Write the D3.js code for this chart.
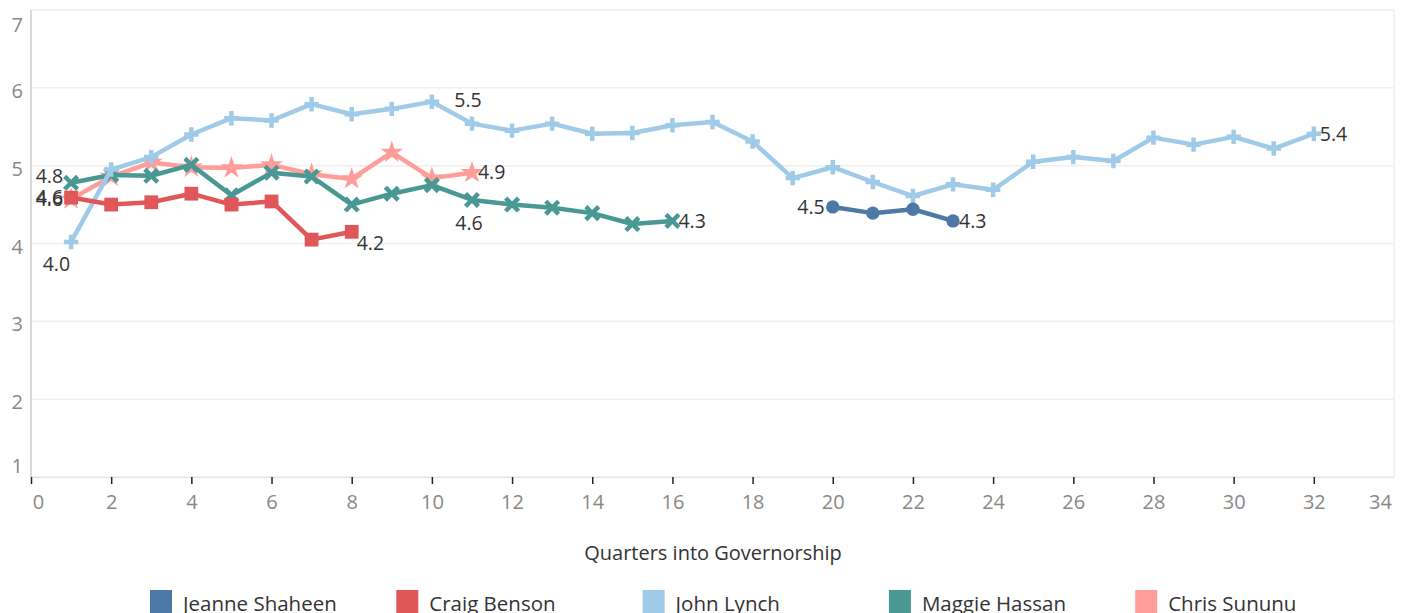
<!DOCTYPE html>
<html>
<head>
<meta charset="utf-8">
<script src="https://cdn.jsdelivr.net/npm/d3@7"></script>
<style>
  body { margin: 0; background: #fff; }
  text { font-family: "Open Sans", "Noto Sans", sans-serif; }
</style>
</head>
<body>
<div id="chart"></div>
<script>
// governors and their colours (Tableau 10)
var governors = ["Jeanne Shaheen", "Craig Benson", "John Lynch", "Maggie Hassan", "Chris Sununu"];
var colors = ["#4e79a7", "#e15759", "#a0cbe8", "#499894", "#ff9d9a"];

// value by quarter into governorship
var shaheenQ = [20, 21, 22, 23];
var shaheenV = [4.47, 4.39, 4.44, 4.29];

var bensonQ = [1, 2, 3, 4, 5, 6, 7, 8];
var bensonV = [4.59, 4.50, 4.53, 4.64, 4.50, 4.54, 4.05, 4.15];

var lynchQ = [1, 2, 3, 4, 5, 6, 7, 8, 9, 10, 11, 12, 13, 14, 15, 16,
  17, 18, 19, 20, 21, 22, 23, 24, 25, 26, 27, 28, 29, 30, 31, 32];
var lynchV = [4.02, 4.95, 5.11, 5.40, 5.61, 5.58, 5.79, 5.66, 5.73, 5.82, 5.54, 5.45,
  5.54, 5.41, 5.42, 5.52, 5.56, 5.31, 4.84, 4.98, 4.79, 4.61, 4.76, 4.69,
  5.05, 5.11, 5.06, 5.36, 5.27, 5.37, 5.22, 5.41];

var hassanQ = [1, 2, 3, 4, 5, 6, 7, 8, 9, 10, 11, 12, 13, 14, 15, 16];
var hassanV = [4.78, 4.88, 4.87, 5.01, 4.62, 4.91, 4.86, 4.50, 4.64, 4.75, 4.56, 4.50,
  4.46, 4.39, 4.25, 4.29];

var sununuQ = [1, 2, 3, 4, 5, 6, 7, 8, 9, 10, 11];
var sununuV = [4.57, 4.86, 5.04, 4.98, 4.97, 5.01, 4.89, 4.83, 5.17, 4.84, 4.91];

var xTicks = d3.range(0, 35, 2);
var yTicks = [1, 2, 3, 4, 5, 6, 7];

function pts(qs, vs) { return qs.map(function (q, i) { return { q: q, v: vs[i] }; }); }

var series = [
  { name: "Chris Sununu", data: pts(sununuQ, sununuV), marker: "star" },
  { name: "Maggie Hassan", data: pts(hassanQ, hassanV), marker: "times" },
  { name: "John Lynch", data: pts(lynchQ, lynchV), marker: "plus" },
  { name: "Craig Benson", data: pts(bensonQ, bensonV), marker: "square" },
  { name: "Jeanne Shaheen", data: pts(shaheenQ, shaheenV), marker: "circle" }
];

// which points get a value label, and where
var labelSpots = {
  "Chris Sununu": [[0, "left"], [10, "right"]],
  "John Lynch": [[0, "belowleft"], [10, "above"], [31, "right"]],
  "Craig Benson": [[0, "left"], [7, "rightlow"]],
  "Maggie Hassan": [[0, "leftup"], [10, "below"], [15, "right"]],
  "Jeanne Shaheen": [[0, "left"], [3, "right"]]
};

var W = 1408, H = 613;
var x = d3.scaleLinear().domain([0, 34]).range([31, 1394]);
var y = d3.scaleLinear().domain([1, 7]).range([477, 10]);
var color = d3.scaleOrdinal().domain(governors).range(colors);

var svg = d3.select("#chart").append("svg").attr("width", W).attr("height", H);

// gridlines
svg.append("g").selectAll("line").data(yTicks.slice(1, -1)).enter().append("line")
  .attr("x1", x(0)).attr("x2", x(34))
  .attr("y1", function (d) { return y(d); }).attr("y2", function (d) { return y(d); })
  .attr("stroke", "#efefef").attr("stroke-width", 1.5);

// frame
svg.append("rect").attr("x", x(0)).attr("y", y(7)).attr("width", x(34) - x(0)).attr("height", y(1) - y(7))
  .attr("fill", "none").attr("stroke", "#e6e6e6").attr("stroke-width", 1);
svg.append("line").attr("x1", x(0)).attr("x2", x(0)).attr("y1", y(7)).attr("y2", y(1))
  .attr("stroke", "#d9d9d9").attr("stroke-width", 2);

// y tick labels
svg.append("g").selectAll("text").data(yTicks).enter().append("text")
  .attr("x", 23)
  .attr("y", function (d) { return d === 7 ? y(d) + 15 : d === 1 ? y(d) - 11 : y(d) + 3; })
  .attr("dy", "0.35em").attr("text-anchor", "end")
  .attr("fill", "#888").style("font-size", "20px")
  .text(function (d) { return d; });

// x axis
var xAxis = svg.append("g").attr("transform", "translate(0," + y(1) + ")")
  .call(d3.axisBottom(x).tickValues(xTicks).tickSize(7).tickSizeOuter(0).tickPadding(11));
xAxis.select(".domain").attr("stroke", "#e6e6e6").attr("stroke-width", 1.5);
xAxis.selectAll(".tick line").attr("stroke", "#222").attr("stroke-width", 1.5)
  .attr("opacity", function (d) { return d === 34 ? 0 : 1; });
xAxis.selectAll(".tick text").attr("fill", "#888").style("font-size", "20px")
  .style("font-family", "'Open Sans', sans-serif")
  .attr("dx", function (d) { return d === 0 ? 7 : d === 34 ? -14 : 0; });

svg.append("text").attr("x", 713).attr("y", 560).attr("text-anchor", "middle")
  .attr("fill", "#333").style("font-size", "20px").text("Quarters into Governorship");

// lines
var line = d3.line().x(function (d) { return x(d.q); }).y(function (d) { return y(d.v); });

var symbols = {
  star: d3.symbol(d3.symbolStar, 160),
  square: d3.symbol(d3.symbolSquare, 190),
  circle: d3.symbol(d3.symbolCircle, 140),
  plus: d3.symbol(d3.symbolPlus, 70),
  times: d3.symbol(d3.symbolTimes, 110)
};
var stroked = { plus: 4.5, times: 4.5 };

series.forEach(function (s) {
  var c = color(s.name);
  var g = svg.append("g");
  g.append("path").datum(s.data).attr("d", line)
    .attr("fill", "none").attr("stroke", c).attr("stroke-width", 4.5)
    .attr("stroke-linejoin", "round");
  g.selectAll("path.m").data(s.data).enter().append("path").attr("class", "m")
    .attr("transform", function (d) { return "translate(" + x(d.q) + "," + y(d.v) + ")"; })
    .attr("d", symbols[s.marker])
    .attr("fill", stroked[s.marker] ? "none" : c)
    .attr("stroke", stroked[s.marker] ? c : "none")
    .attr("stroke-width", stroked[s.marker] || 0);
});

// value labels
var place = {
  left: [-8, 0, "end"], leftup: [-8, -7, "end"], right: [6, 0, "start"],
  rightlow: [5, 11, "start"], belowleft: [-1, 22, "end"],
  above: [-4, -23, "middle"], below: [-3, 23, "middle"]
};
series.forEach(function (s) {
  (labelSpots[s.name] || []).forEach(function (sp) {
    var d = s.data[sp[0]], p = place[sp[1]];
    svg.append("text")
      .attr("x", x(d.q) + p[0]).attr("y", y(d.v) + p[1]).attr("dy", "0.35em")
      .attr("text-anchor", p[2]).attr("fill", "#333").style("font-size", "19.5px")
      .text(d3.format(".1f")(d.v));
  });
});

// legend
var leg = svg.append("g").selectAll("g").data(governors).enter().append("g")
  .attr("transform", function (d, i) { return "translate(" + (150 + i * 246.3) + ",590)"; });
leg.append("rect").attr("width", 22).attr("height", 24).attr("fill", function (d) { return color(d); });
leg.append("text").attr("x", 33).attr("y", 13).attr("dy", "0.38em")
  .attr("fill", "#333").style("font-size", "20.5px")
  .text(function (d) { return d; });
</script>
</body>
</html>
